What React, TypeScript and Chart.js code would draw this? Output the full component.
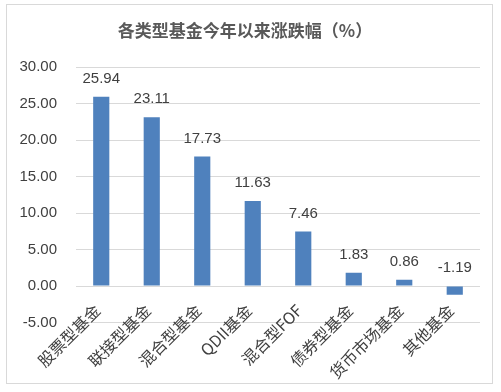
import React, { useEffect, useRef } from "react";
import { Chart, registerables } from "chart.js";

Chart.register(...registerables);

const TITLE = "各类型基金今年以来涨跌幅（%）";
const categories = ["股票型基金", "联接型基金", "混合型基金", "QDII基金", "混合型FOF", "债券型基金", "货币市场基金", "其他基金"];
const values = [25.94, 23.11, 17.73, 11.63, 7.46, 1.83, 0.86, -1.19];
const yTicks = { min: -5, max: 30, step: 5 };

const FONT = "'Noto Sans CJK SC', 'Liberation Sans', sans-serif";
const NUMFONT = "'Liberation Sans', sans-serif";

const labelPlugin = {
  id: "valueLabels",
  afterDatasetsDraw(chart: any) {
    const ctx = chart.ctx;
    const meta = chart.getDatasetMeta(0);
    const ys = chart.scales.y;
    const xs = chart.scales.x;
    ctx.save();
    ctx.font = `15px ${NUMFONT}`;
    ctx.fillStyle = "#404040";
    ctx.textAlign = "center";
    ctx.textBaseline = "middle";
    meta.data.forEach((bar: any, i: number) => {
      const v = values[i];
      const top = ys.getPixelForValue(Math.max(v, 0));
      ctx.fillText(v.toFixed(2), bar.x, top - 18);
    });
    ctx.restore();

    // rotated category labels
    ctx.save();
    ctx.font = `16px ${FONT}`;
    ctx.fillStyle = "#404040";
    ctx.textAlign = "right";
    ctx.textBaseline = "middle";
    categories.forEach((c, i) => {
      const x = xs.getPixelForValue(i);
      ctx.save();
      ctx.translate(x - 4, chart.chartArea.bottom - 15);
      ctx.rotate(-Math.PI / 4);
      ctx.fillText(c, 0, 0);
      ctx.restore();
    });
    ctx.restore();
  },
  afterDraw(chart: any) {
    const ctx = chart.ctx;
    ctx.save();
    ctx.font = `bold 17px ${FONT}`;
    ctx.fillStyle = "#595959";
    ctx.textAlign = "center";
    ctx.textBaseline = "middle";
    ctx.fillText(TITLE, 238, 26);
    ctx.restore();
  },
};

export default function App() {
  const ref = useRef<HTMLCanvasElement>(null);
  useEffect(() => {
    const chart = new Chart(ref.current!, {
      type: "bar",
      data: {
        labels: categories,
        datasets: [
          {
            data: values,
            backgroundColor: "#4f81bd",
            barPercentage: 0.32,
            categoryPercentage: 1,
          },
        ],
      },
      options: {
        animation: false,
        responsive: false,
        maintainAspectRatio: false,
        layout: { padding: { top: 62, right: 12, left: 0, bottom: 0 } },
        plugins: { legend: { display: false }, tooltip: { enabled: false }, title: { display: false } },
        scales: {
          x: {
            grid: { display: false, drawTicks: false },
            border: { display: false },
            afterFit(axis: any) {
              axis.height = 60.5;
            },
            ticks: { display: false },
          },
          y: {
            min: yTicks.min,
            max: yTicks.max,
            afterFit(axis: any) {
              axis.width = 69;
            },
            grid: { color: "#d9d9d9", drawTicks: false },
            border: { display: false },
            ticks: {
              stepSize: yTicks.step,
              padding: 19,
              color: "#404040",
              font: { size: 15, family: NUMFONT },
              callback: (v: any) => Number(v).toFixed(2),
            },
          },
        },
      },
      plugins: [labelPlugin],
    });
    return () => chart.destroy();
  }, []);
  return (
    <div style={{ position: "fixed", left: 0, top: 0, width: 501, height: 392, background: "#fff" }}>
      <div
        style={{
          position: "absolute",
          left: 6,
          top: 4,
          width: 485,
          height: 378,
          border: "1px solid #d9d9d9",
        }}
      >
        <canvas ref={ref} width={485} height={378} style={{ display: "block" }} />
      </div>
    </div>
  );
}
